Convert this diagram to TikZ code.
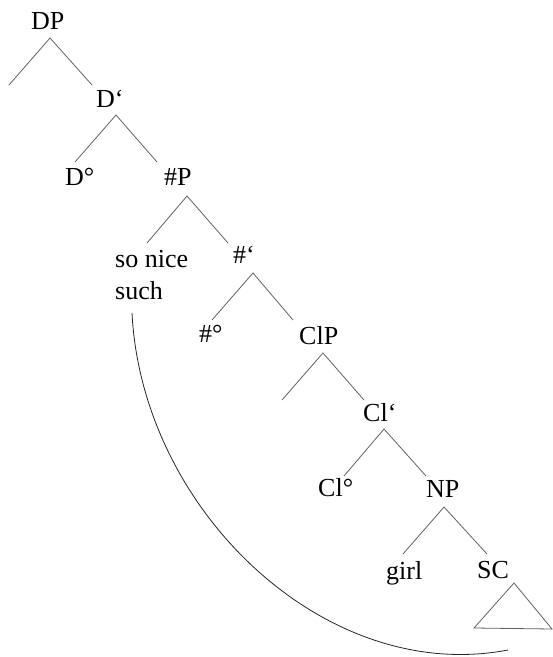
\documentclass[tikz,border=0pt]{standalone}
\usepackage{fontspec}
\setmainfont{Liberation Serif}
\begin{document}
\begin{tikzpicture}[x=1pt,y=-1pt,
  lab/.style={inner sep=0pt,anchor=base west,font=\fontsize{26}{32}\selectfont},
  branch/.style={draw=black!62,line width=0.8pt},
  movecurve/.style={draw=black!85,line width=0.8pt}]
\useasboundingbox (0,0) rectangle (553,657);
% labels
\node[lab] (DP) at (31,29) {DP};
\node[lab] (Dbar) at (96,107) {D‘};
\node[lab] (Dhead) at (65,185) {D°};
\node[lab] (NumP) at (164,185) {\#P};
\node[lab] (sonice) at (115,267) {so nice};
\node[lab] (such) at (115,299) {such};
\node[lab] (Numbar) at (233,263) {\#‘};
\node[lab] (Numhead) at (199,342) {\#°};
\node[lab] (ClP) at (299,344) {ClP};
\node[lab] (Clbar) at (363,421) {Cl‘};
\node[lab] (Clhead) at (318,496) {Cl°};
\node[lab] (NP) at (426,497) {NP};
\node[lab] (girl) at (386,579) {girl};
\node[lab] (SC) at (477,578) {SC};
% branch points
\coordinate (DPa) at (50,38);   \coordinate (DPl) at (9,85);    \coordinate (DPr) at (92,85);
\coordinate (Dbara) at (116,115); \coordinate (Dbarl) at (75,162); \coordinate (Dbarr) at (157,162);
\coordinate (NumPa) at (187,196); \coordinate (NumPl) at (147,243); \coordinate (NumPr) at (228,243);
\coordinate (Numbara) at (253,273); \coordinate (Numbarl) at (212,320); \coordinate (Numbarr) at (293,320);
\coordinate (ClPa) at (323,353); \coordinate (ClPl) at (282,400); \coordinate (ClPr) at (364,400);
\coordinate (Clbara) at (384,429); \coordinate (Clbarl) at (344,476); \coordinate (Clbarr) at (426,476);
\coordinate (NPa) at (444,507); \coordinate (NPl) at (403,554); \coordinate (NPr) at (487,554);
\coordinate (SCa) at (514,583); \coordinate (SCl) at (474,628); \coordinate (SCr) at (552,629);
% branches
\draw[branch] (DPl) -- (DPa) -- (DPr);
\draw[branch] (Dbarl) -- (Dbara) -- (Dbarr);
\draw[branch] (NumPl) -- (NumPa) -- (NumPr);
\draw[branch] (Numbarl) -- (Numbara) -- (Numbarr);
\draw[branch] (ClPl) -- (ClPa) -- (ClPr);
\draw[branch] (Clbarl) -- (Clbara) -- (Clbarr);
\draw[branch] (NPl) -- (NPa) -- (NPr);
\draw[branch] (SCl) -- (SCa) -- (SCr) -- cycle;
% movement curve
\coordinate (curveS) at (132,313);
\coordinate (curveE) at (508,650);
\draw[movecurve] (curveS) .. controls (142,510) and (325,685) .. (curveE);
\end{tikzpicture}
\end{document}
